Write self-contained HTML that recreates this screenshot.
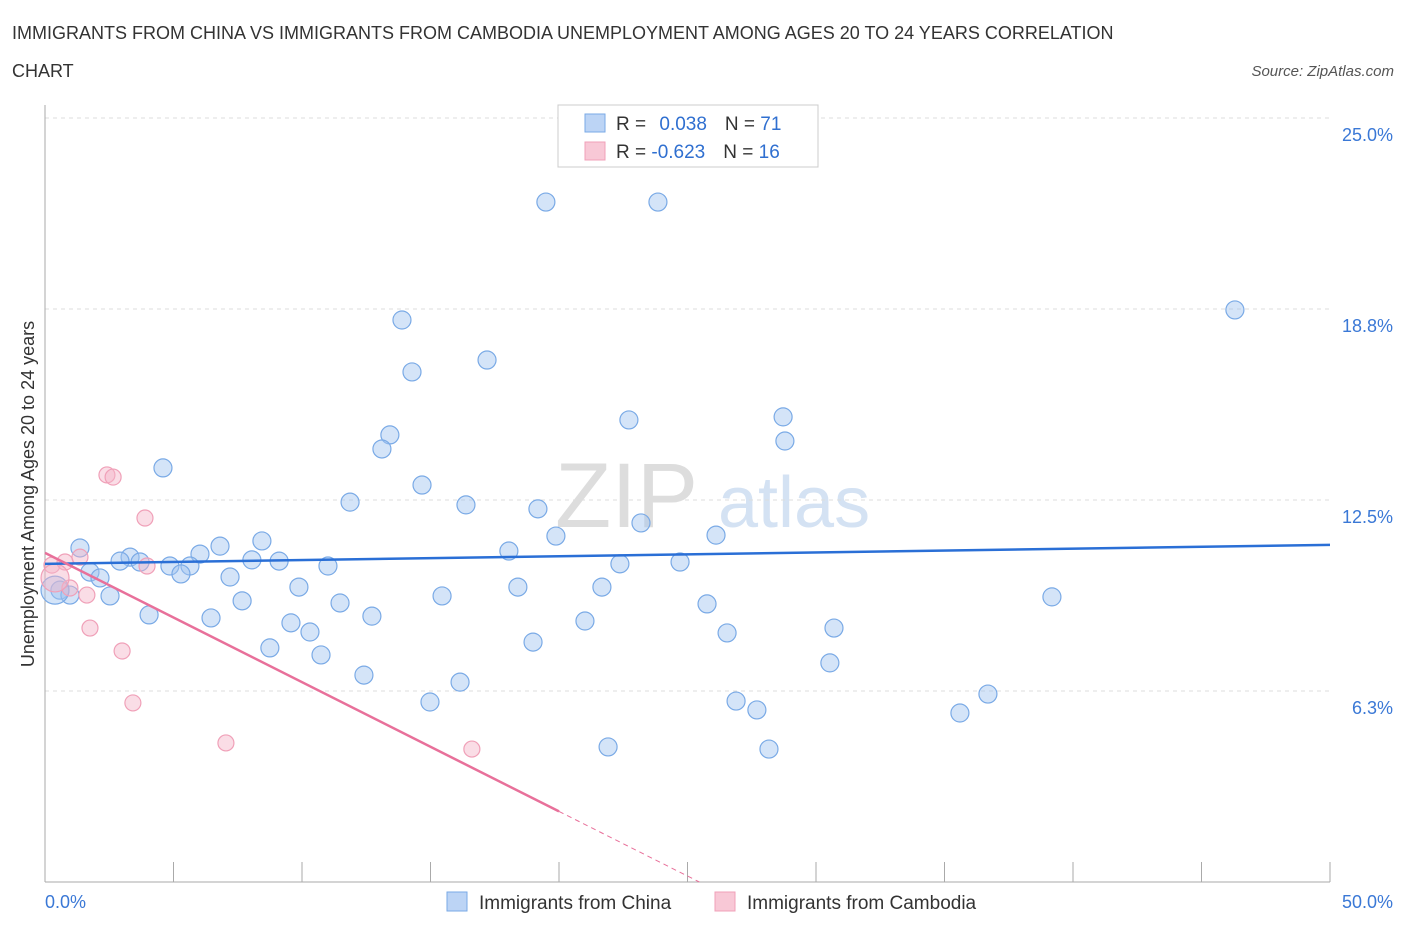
<!DOCTYPE html>
<html><head><meta charset="utf-8"><style>
body{margin:0;background:#fff;font-family:"Liberation Sans",sans-serif;}
svg text{font-family:"Liberation Sans",sans-serif;}
</style></head><body>
<svg width="1406" height="930" viewBox="0 0 1406 930">
<text x="12" y="39" font-size="18" fill="#333">IMMIGRANTS FROM CHINA VS IMMIGRANTS FROM CAMBODIA UNEMPLOYMENT AMONG AGES 20 TO 24 YEARS CORRELATION</text>
<text x="12" y="77" font-size="18" fill="#333">CHART</text>
<text x="1394" y="76" font-size="15" fill="#555" text-anchor="end" font-style="italic">Source: ZipAtlas.com</text>
<g>
<text x="555" y="527" font-size="92" fill="#ddd" font-family="Liberation Serif">ZIP</text>
<text x="718" y="527" font-size="72" fill="#d4e2f3">atlas</text>
</g>
<g id="grid"></g>
<g id="axes"></g>
<g id="marks"></g>
<g>
<rect x="558" y="105" width="260" height="62" fill="#fff" stroke="#ccc"/>
<rect x="585" y="114" width="20" height="18" fill="#bcd4f5" stroke="#7aaae6"/>
<text x="616" y="130" font-size="19" fill="#333">R = <tspan fill="#2f6fd0" dx="8">0.038</tspan><tspan fill="#333" dx="18">N = </tspan><tspan fill="#2f6fd0">71</tspan></text>
<rect x="585" y="142" width="20" height="18" fill="#f8c8d6" stroke="#f0a0b8"/>
<text x="616" y="158" font-size="19" fill="#333">R = <tspan fill="#2f6fd0">-0.623</tspan><tspan fill="#333" dx="18">N = </tspan><tspan fill="#2f6fd0">16</tspan></text>
</g>
<g>
<rect x="447" y="892" width="20" height="19" fill="#bcd4f5" stroke="#7aaae6"/>
<text x="479" y="909" font-size="19" fill="#333">Immigrants from China</text>
<rect x="715" y="892" width="20" height="19" fill="#f8c8d6" stroke="#f0a0b8"/>
<text x="747" y="909" font-size="19" fill="#333">Immigrants from Cambodia</text>
</g>
</svg>
<script>
const yTicks=[6.25,12.5,18.75,25];
const yTickLabels=["6.3%","12.5%","18.8%","25.0%"];
const xTickValues=[0,5,10,15,20,25,30,35,40,45,50];
const chinaX=[19.49,23.85,46.3,13.89,17.2,14.28,22.72,28.72,28.79,13.42,13.11,4.59,14.67,11.87,16.38,19.18,23.19,19.88,26.11,1.36,8.44,6.81,6.03,3.31,2.92,3.7,8.05,9.11,18.05,22.37,24.71,4.86,5.64,11.01,1.75,2.14,5.29,7.2,9.88,18.4,21.67,0.58,0.97,2.53,15.45,39.18,7.67,11.48,25.76,4.05,6.46,12.72,21.01,9.57,10.31,30.7,26.54,18.99,8.75,10.74,30.54,12.41,16.15,36.69,14.98,26.89,27.7,35.6,21.91,28.17,0.39];
const chinaY=[22.25,22.25,18.72,18.39,17.08,16.69,15.12,15.22,14.43,14.63,14.17,13.55,12.99,12.43,12.34,12.21,11.75,11.32,11.35,10.93,11.16,10.99,10.73,10.63,10.5,10.47,10.54,10.5,10.83,10.41,10.47,10.34,10.34,10.34,10.14,9.95,10.08,9.98,9.65,9.65,9.65,9.55,9.39,9.36,9.36,9.33,9.2,9.13,9.1,8.74,8.64,8.7,8.54,8.48,8.18,8.31,8.15,7.85,7.66,7.43,7.17,6.77,6.54,6.15,5.89,5.92,5.63,5.53,4.42,4.35,9.55];
const camX=[0.27,0.78,1.36,2.41,2.65,3.89,3.97,0.97,1.63,1.75,3.0,3.42,7.04,16.61,0.39];
const camY=[10.37,10.47,10.63,13.32,13.25,11.91,10.34,9.62,9.39,8.31,7.56,5.86,4.55,4.35,9.95];
const chinaTrend=[10.41,0.0124];
const camTrend=[10.77,-0.423];
const X=v=>45+v*25.7, Y=v=>882-v*30.56;
const NS="http://www.w3.org/2000/svg";
function mk(t,a,p){const e=document.createElementNS(NS,t);for(const k in a)e.setAttribute(k,a[k]);p.appendChild(e);return e;}
const grid=document.getElementById('grid'),axes=document.getElementById('axes'),marks=document.getElementById('marks');
yTicks.forEach((t,i)=>{
 const l=mk('line',{x1:45,x2:1330,y1:Y(t),y2:Y(t),stroke:'#ddd','stroke-dasharray':'4,4'},grid);
 
 
 const tx=mk('text',{x:1393,y:Y(t)+23,'font-size':18,fill:'#3a78d6','text-anchor':'end'},axes);
 tx.textContent=yTickLabels[i];
 
 
});
const ax=mk('line',{x1:45,x2:1330,y1:882,y2:882,stroke:'#aaa'},axes);


const ay=mk('line',{x1:45,x2:45,y1:105,y2:882,stroke:'#aaa'},axes);


xTickValues.forEach(v=>{
 const t=mk('line',{x1:X(v),x2:X(v),y1:862,y2:882,stroke:'#aaa'},axes);
 
 
});
const xl0=mk('text',{x:45,y:908,'font-size':18,fill:'#3a78d6'},axes);xl0.textContent='0.0%';


const xl1=mk('text',{x:1393,y:908,'font-size':18,fill:'#3a78d6','text-anchor':'end'},axes);xl1.textContent='50.0%';


const yt=mk('text',{x:34,y:494,'font-size':18,fill:'#333','text-anchor':'middle',transform:'rotate(-90 34 494)'},axes);
yt.textContent='Unemployment Among Ages 20 to 24 years';


chinaX.forEach((x,i)=>{
 const c=mk('circle',{cx:X(x),cy:Y(chinaY[i]),r:i==chinaX.length-1?14:9,fill:'rgba(160,195,240,0.45)',stroke:'#7aaae6','stroke-width':1.2},marks);
 
 
});
camX.forEach((x,i)=>{
 const c=mk('circle',{cx:X(x),cy:Y(camY[i]),r:i==camX.length-1?14:8,fill:'rgba(245,180,200,0.45)',stroke:'#f0a0b8','stroke-width':1.2},marks);
 
 
});
const bl=mk('line',{x1:X(0),y1:Y(chinaTrend[0]),x2:X(50),y2:Y(chinaTrend[0]+50*chinaTrend[1]),stroke:'#2a6fd6','stroke-width':2.5},marks);


const xEnd=20, xZero=-camTrend[0]/camTrend[1];
const pl=mk('line',{x1:X(0),y1:Y(camTrend[0]),x2:X(xEnd),y2:Y(camTrend[0]+xEnd*camTrend[1]),stroke:'#e8709a','stroke-width':2.5},marks);


const pd=mk('line',{x1:X(xEnd),y1:Y(camTrend[0]+xEnd*camTrend[1]),x2:X(xZero),y2:Y(0),stroke:'#e8709a','stroke-width':1,'stroke-dasharray':'5,4'},marks);


</script>
</body></html>
